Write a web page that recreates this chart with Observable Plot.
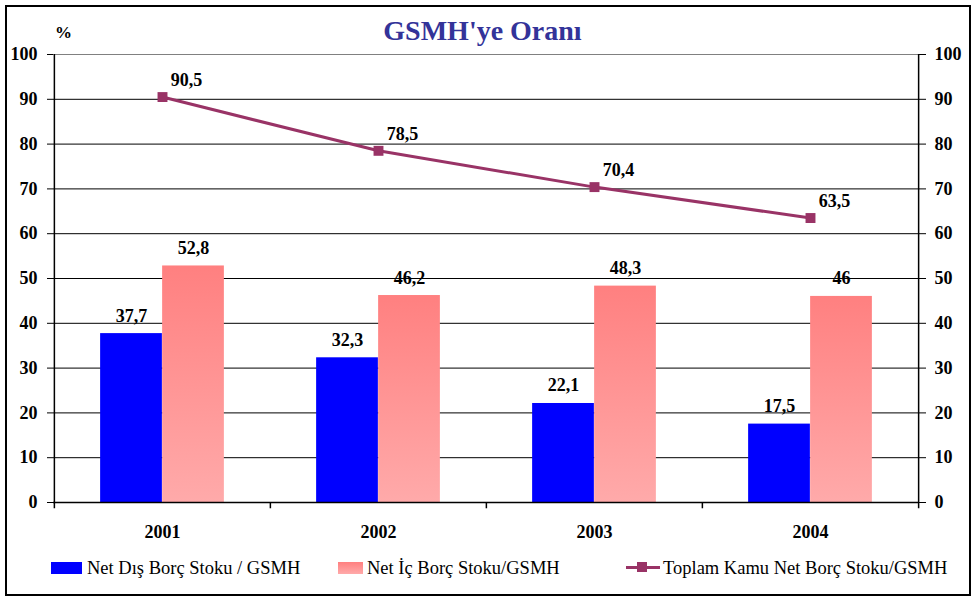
<!DOCTYPE html>
<html>
<head>
<meta charset="utf-8">
<script src="https://cdn.jsdelivr.net/npm/d3@7"></script>
<script src="https://cdn.jsdelivr.net/npm/@observablehq/plot@0.6"></script>
<style>
  html, body { margin: 0; padding: 0; background: #fff; }
  #wrap { position: relative; width: 977px; height: 600px; font-family: "Liberation Serif", "Times New Roman", Times, serif; }
  #border { position: absolute; left: 5px; top: 5px; width: 966px; height: 591px; box-sizing: border-box; border: 2px solid #000; }
  #title { position: absolute; left: 0; width: 965px; top: 15px; text-align: center; font-size: 28px; font-weight: bold; color: #333399; }
  #pct { position: absolute; left: 55px; top: 23px; font-size: 17px; font-weight: bold; }
  #chart { position: absolute; left: 0; top: 0; }
  .lg { position: absolute; top: 558px; font-size: 18.5px; line-height: 20px; white-space: nowrap; }
  .sw { position: absolute; }
</style>
</head>
<body>
<div id="wrap">
  <div id="border"></div>
  <div id="chart"></div>
  <div id="title">GSMH'ye Oranı</div>
  <div id="pct">%</div>
  <div class="sw" style="left:51px;top:562px;width:31px;height:12px;background:#0000ff"></div>
  <div class="lg" id="lg1" style="left:87px"></div>
  <div class="sw" style="left:338px;top:562px;width:25px;height:12px;background:linear-gradient(#ff8080,#ffaaaa)"></div>
  <div class="lg" id="lg2" style="left:367px"></div>
  <div class="sw" style="left:626px;top:566px;width:34px;height:3px;background:#993366"></div>
  <div class="sw" style="left:637px;top:562px;width:10px;height:10px;background:#993366"></div>
  <div class="lg" id="lg3" style="left:663px"></div>
</div>
<script>
const years = ["2001", "2002", "2003", "2004"];
const netDis = [37.7, 32.3, 22.1, 17.5];
const netIc = [52.8, 46.2, 48.3, 46];
const toplam = [90.5, 78.5, 70.4, 63.5];
const yTicks = [0, 10, 20, 30, 40, 50, 60, 70, 80, 90, 100];
const seriesNames = ["Net Dış Borç Stoku / GSMH", "Net İç Borç Stoku/GSMH", "Toplam Kamu Net Borç Stoku/GSMH"];

document.getElementById("lg1").textContent = seriesNames[0];
document.getElementById("lg2").textContent = seriesNames[1];
document.getElementById("lg3").textContent = seriesNames[2];

const data = years.map((y, i) => ({year: y, dis: netDis[i], ic: netIc[i], top: toplam[i]}));
const fmt = v => String(v).replace(".", ",");

const W = 977, H = 560, mL = 53, mR = 59, mT = 54, mB = 58;
const bw = (W - mL - mR) / years.length;
const barW = 62;
const gap = bw / 2 - barW;
const serif = '"Liberation Serif", "Times New Roman", Times, serif';
const font = {fontSize: 18, fontWeight: "bold", fontFamily: serif};

const chart = Plot.plot({
  width: W, height: H,
  marginLeft: mL, marginRight: mR, marginTop: mT, marginBottom: mB,
  style: {fontFamily: serif, color: "#000", background: "transparent", overflow: "visible"},
  x: {domain: years, padding: 0, axis: null},
  y: {domain: [0, 100], axis: null},
  marks: [
    Plot.ruleY(yTicks.filter(t => t > 0 && t < 100), {stroke: "#000", strokeWidth: 1}),
    Plot.ruleY([100], {stroke: "#808080", strokeWidth: 1}),
    Plot.barY(data, {x: "year", y: "dis", fill: "#0000ff", insetLeft: gap, insetRight: bw / 2}),
    Plot.barY(data, {x: "year", y: "ic", fill: "url(#pinkGrad)", insetLeft: bw / 2, insetRight: gap}),
    Plot.ruleY([0], {stroke: "#000", strokeWidth: 1.5}),
    Plot.ruleX([years[0]], {dx: -bw / 2, y1: -1.4, y2: 100, stroke: "#000", strokeWidth: 1.5}),
    Plot.ruleX([years[years.length - 1]], {dx: bw / 2, y1: -1.4, y2: 100, stroke: "#000", strokeWidth: 1.5}),
    Plot.ruleX(years.slice(1), {dx: -bw / 2, y1: 0, y2: -1.4, stroke: "#000", strokeWidth: 1.5}),
    Plot.axisY(yTicks, {anchor: "left", tickSize: 6, tickPadding: 10, label: null, ...font, tickFormat: d => d}),
    Plot.axisY(yTicks, {anchor: "right", tickSize: 7, tickPadding: 9, label: null, ...font, tickFormat: d => d}),
    Plot.axisX({tickSize: 0, tickPadding: 23, label: null, ...font}),
    Plot.lineY(data, {x: "year", y: "top", stroke: "#993366", strokeWidth: 3}),
    Plot.dot(data, {x: "year", y: "top", symbol: "square", r: 5.6, fill: "#993366", stroke: "none"}),
    Plot.text(data, {x: "year", y: "dis", text: d => fmt(d.dis), dx: -barW / 2, dy: -12, lineAnchor: "bottom", ...font}),
    Plot.text(data, {x: "year", y: "ic", text: d => fmt(d.ic), dx: barW / 2, dy: -12, lineAnchor: "bottom", ...font}),
    Plot.text(data, {x: "year", y: "top", text: d => fmt(d.top), dx: 24, dy: -11, lineAnchor: "bottom", ...font})
  ]
});

const ns = "http://www.w3.org/2000/svg";
const defs = document.createElementNS(ns, "defs");
defs.innerHTML = '<linearGradient id="pinkGrad" x1="0" y1="0" x2="0" y2="1"><stop offset="0" stop-color="#ff8080"/><stop offset="1" stop-color="#ffaaaa"/></linearGradient>';
chart.insertBefore(defs, chart.firstChild);
document.getElementById("chart").appendChild(chart);
</script>
</body>
</html>
